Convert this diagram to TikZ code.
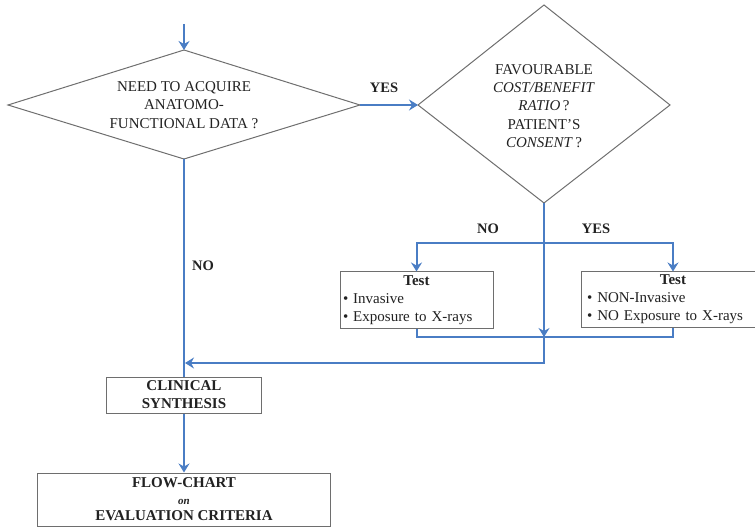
\documentclass[tikz,border=0pt]{standalone}
\usepackage{fontspec}
\setmainfont{Liberation Serif}
\usetikzlibrary{arrows.meta}
\definecolor{flowblue}{HTML}{4A7DC4}
\definecolor{edgegray}{HTML}{6E6E6E}
\definecolor{txt}{HTML}{222222}
\tikzset{
  shapeline/.style={draw=edgegray, line width=1bp},
  conn/.style={draw=flowblue, line width=2bp},
  flow/.style={conn, -{Stealth[length=9bp,width=11bp,inset=3bp]}},
  lbl/.style={font=\fontsize{14.5bp}{18bp}\selectfont\bfseries, text=txt, inner sep=0pt},
  dtext/.style={font=\fontsize{15bp}{18.2bp}\selectfont, text=txt, align=center, inner sep=0pt},
  box/.style={shapeline, fill=white, text=txt, font=\fontsize{15bp}{18bp}\selectfont, inner sep=0pt},
}
\begin{document}
\begin{tikzpicture}[x=1bp, y=-1bp]
\useasboundingbox (0,0) rectangle (755,528);
% diamond 1
\coordinate (d1l) at (8,105);
\coordinate (d1t) at (184,50);
\coordinate (d1r) at (360,105);
\coordinate (d1b) at (184,159);
\draw[shapeline] (d1l) -- (d1t) -- (d1r) -- (d1b) -- cycle;
\node[dtext] (d1) at (184,105) {NEED TO ACQUIRE\\ANATOMO-\\FUNCTIONAL DATA ?};
% diamond 2
\coordinate (d2l) at (418,105);
\coordinate (d2t) at (544,5);
\coordinate (d2r) at (670,105);
\coordinate (d2b) at (544,203);
\draw[shapeline] (d2l) -- (d2t) -- (d2r) -- (d2b) -- cycle;
\node[dtext] (d2) at (544,106) {FAVOURABLE\\\textit{COST/BENEFIT}\\\textit{RATIO}\,?\\PATIENT'S\\\textit{CONSENT}\,?};
% boxes
\node[box, minimum width=153bp, minimum height=56bp, text width=147bp, align=left] (lb) at (416.5,300)
  {\makebox[\hsize][c]{\textbf{Test}}\\\textbullet\ Invasive\\\textbullet\ Exposure to X-rays};
\node[box, minimum width=184bp, minimum height=55bp, text width=172bp, align=left] (rb) at (673,299.5)
  {\makebox[\hsize][c]{\textbf{Test}}\\\textbullet\ NON-Invasive\\\textbullet\ NO Exposure to X-rays};
\node[box, minimum width=155bp, minimum height=36bp, align=center, font=\fontsize{15bp}{18bp}\selectfont\bfseries] (cs) at (184,395) {CLINICAL\\SYNTHESIS};
\node[box, minimum width=293bp, minimum height=53bp, align=center, font=\fontsize{15bp}{16.5bp}\selectfont\bfseries] (fc) at (184,499.5) {FLOW-CHART\\{\fontsize{11bp}{12bp}\selectfont\itshape on}\\EVALUATION CRITERIA};
% labels
\node[lbl] (yes1) at (384,88) {YES};
\node[lbl] (no1) at (488,229) {NO};
\node[lbl] (yes2) at (596,229) {YES};
\node[lbl] (no2) at (203,266) {NO};
% connectors
\coordinate (start) at (184,24);
\coordinate (br) at (544,243);
\coordinate (mj) at (544,337);
\coordinate (li) at (185,363);
\draw[flow] (start) -- (d1t);
\draw[flow] (d1r) -- (d2l);
\draw[conn] (d2b) -- (br);
\draw[flow] (br) -| (lb.north);
\draw[flow] (br) -| (rb.north);
\draw[conn] (lb.south) |- (mj) -| (rb.south);
\draw[flow] (br) -- (mj);
\draw[flow] (mj) |- (li);
\draw[conn] (d1b) -- (cs.north);
\draw[flow] (cs.south) -- (fc.north);
\end{tikzpicture}
\end{document}
